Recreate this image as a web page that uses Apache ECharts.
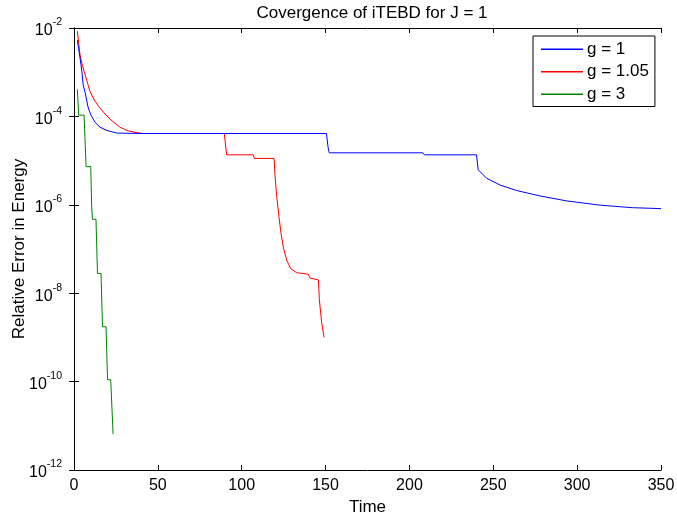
<!DOCTYPE html>
<html>
<head>
<meta charset="utf-8">
<script src="https://cdn.jsdelivr.net/npm/echarts@6/dist/echarts.min.js"></script>
<style>html,body{margin:0;padding:0;background:#fff}#c{width:677px;height:517px}</style>
</head>
<body>
<div id="c"></div>
<script>
// Data
const seriesNames = ['g = 1', 'g = 1.05', 'g = 3'];
const xTicks = [0, 50, 100, 150, 200, 250, 300, 350];
const yTickExponents = [-12, -10, -8, -6, -4, -2];

const blueT = [2.0, 2.7, 3.6, 4.6, 5.5, 6.6, 8.5, 10.1, 12.5, 15.5, 19.7, 25.6, 41.1, 150.5, 151.5, 152.2, 208, 209, 240, 241, 246, 254, 264, 278, 294, 314, 333, 350];
const blueV = [5.3e-3, 3.5e-3, 2.1e-3, 1.12e-3, 5.1e-4, 3.5e-4, 1.55e-4, 1.07e-4, 7.4e-5, 5.7e-5, 4.8e-5, 4.2e-5, 4.1e-5, 4.1e-5, 2.0e-5, 1.5e-5, 1.5e-5, 1.35e-5, 1.35e-5, 6.2e-6, 4.0e-6, 2.8e-6, 2.1e-6, 1.58e-6, 1.22e-6, 9.8e-7, 8.6e-7, 8.2e-7];

const redT = [2.0, 3.6, 4.6, 7.2, 9.5, 12.5, 15.5, 19.1, 22.7, 27.4, 31.6, 36.4, 41.1, 89.6, 91.0, 107.0, 107.5, 119.3, 119.9, 120.9, 122.2, 123.4, 124.8, 126.8, 129.2, 132.8, 139.7, 140.7, 145.7, 146.3, 147.7, 149.1];
const redV = [8.5e-3, 2.45e-3, 1.62e-3, 7.4e-4, 3.7e-4, 2.2e-4, 1.55e-4, 1.07e-4, 7.9e-5, 5.7e-5, 4.8e-5, 4.35e-5, 4.1e-5, 4.1e-5, 1.35e-5, 1.35e-5, 1.12e-5, 1.12e-5, 4.3e-6, 1.5e-6, 5.4e-7, 2.3e-7, 1.1e-7, 5.6e-8, 3.6e-8, 2.9e-8, 2.7e-8, 2.2e-8, 2.0e-8, 7.1e-9, 2.1e-9, 1.0e-9];

const greenT = [2.0, 2.8, 6.0, 7.2, 10.0, 10.5, 11.0, 13.1, 14.0, 16.1, 17.0, 19.1, 20.0, 21.9, 23.3];
const greenV = [4.1e-4, 1.07e-4, 1.07e-4, 7.3e-6, 7.3e-6, 1.0e-6, 4.7e-7, 4.7e-7, 2.8e-8, 2.8e-8, 1.74e-9, 1.74e-9, 1.1e-10, 1.1e-10, 6.5e-12];

const yAxisTitle = 'Relative Error in Energy';
const colors = ['#0000ff', '#ff0000', '#008000'];
const FONT = 'Liberation Sans, Arial, sans-serif';

function pairs(t, v) { return t.map((x, i) => [x, v[i]]); }

const chart = echarts.init(document.getElementById('c'));
const yFmt = function (val) {
  const e = Math.round(Math.log10(val));
  return '{b|10}{s|' + e + '}';
};
const richY = {
  b: { fontSize: 16, fontFamily: FONT, color: '#000', lineHeight: 22, verticalAlign: 'bottom' },
  s: { fontSize: 10.5, fontFamily: FONT, color: '#000', lineHeight: 22, verticalAlign: 'top' }
};
const xMin = xTicks[0], xMax = xTicks[xTicks.length - 1];
const yMin = Math.pow(10, yTickExponents[0]), yMax = Math.pow(10, yTickExponents[yTickExponents.length - 1]);
const tick = { show: true, inside: true, length: 5, lineStyle: { color: '#000', width: 1 } };
const axLine = { show: true, lineStyle: { color: '#000', width: 1 } };

chart.setOption({
  animation: false,
  backgroundColor: '#fff',
  color: colors,
  title: {
    text: 'Covergence of iTEBD for J = 1',
    left: 367, textAlign: 'center', top: 0,
    textStyle: { fontFamily: FONT, fontSize: 17, fontWeight: 'normal', color: '#000' }
  },
  graphic: [{
    type: 'text', x: 19, y: 249, rotation: Math.PI / 2,
    style: { text: yAxisTitle, fontFamily: FONT, fontSize: 17, fill: '#000', align: 'center', verticalAlign: 'middle' }
  }],
  grid: { left: 74, right: 16, top: 28, bottom: 47, containLabel: false, outerBoundsMode: 'none' },
  legend: {
    orient: 'vertical', left: 533, top: 36,
    padding: [4, 6, 3, 8], itemGap: 4,
    itemWidth: 42, itemHeight: 1.5, icon: 'rect',
    borderColor: '#000', borderWidth: 1, backgroundColor: '#fff',
    textStyle: { fontFamily: FONT, fontSize: 17, color: '#000', lineHeight: 18.5, padding: [0, 0, 0, -1] },
    data: seriesNames
  },
  xAxis: [{
    type: 'value', min: xMin, max: xMax, interval: 50,
    name: 'Time', nameLocation: 'middle', nameGap: 29, nameMoveOverlap: false,
    nameTextStyle: { fontFamily: FONT, fontSize: 17, color: '#000' },
    axisLine: axLine, axisTick: tick, splitLine: { show: false },
    axisLabel: { fontFamily: FONT, fontSize: 16, color: '#000', margin: 8 }
  }, {
    type: 'value', position: 'top', min: xMin, max: xMax, interval: 50,
    axisLine: axLine, axisTick: tick, splitLine: { show: false }, axisLabel: { show: false }
  }],
  yAxis: [{
    type: 'log', logBase: 10, min: yMin, max: yMax, interval: 2,
    axisLine: axLine, axisTick: tick, splitLine: { show: false }, minorTick: { show: false },
    axisLabel: { formatter: yFmt, rich: richY, margin: 12 }
  }, {
    type: 'log', logBase: 10, min: yMin, max: yMax, interval: 2, position: 'right',
    axisLine: axLine, axisTick: tick, splitLine: { show: false }, axisLabel: { show: false }
  }],
  series: [
    { name: seriesNames[0], type: 'line', data: pairs(blueT, blueV), showSymbol: false, symbol: 'none', lineStyle: { width: 1, color: colors[0] }, z: 3 },
    { name: seriesNames[1], type: 'line', data: pairs(redT, redV), showSymbol: false, symbol: 'none', lineStyle: { width: 1, color: colors[1] }, z: 2 },
    { name: seriesNames[2], type: 'line', data: pairs(greenT, greenV), showSymbol: false, symbol: 'none', lineStyle: { width: 1, color: colors[2] }, z: 1 }
  ]
});
</script>
</body>
</html>
